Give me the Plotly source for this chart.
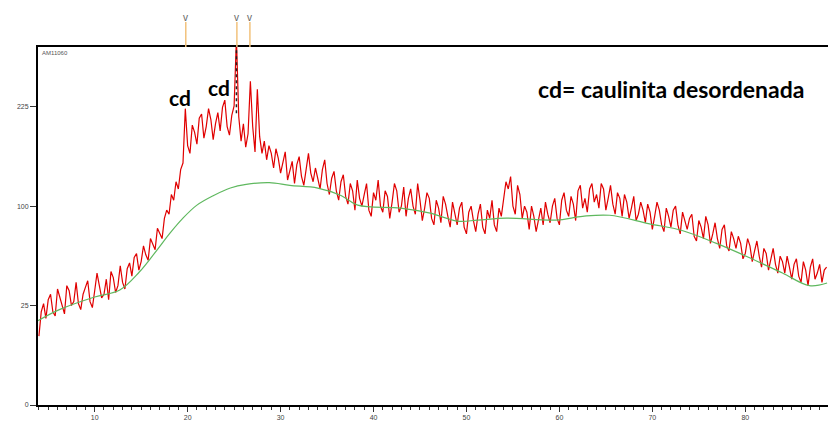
import numpy as np
import plotly.graph_objects as go

# 2-theta sampling grid (degrees) and measured counts
theta_start = 4.0
theta_step = 0.25
counts = [
    12, 22, 26, 19, 28, 31, 22, 20, 34, 29, 24, 21, 36, 33, 25, 27, 38, 26, 23, 31,
    35, 39, 27, 24, 33, 44, 36, 29, 31, 40, 28, 45, 41, 32, 36, 49, 38, 34, 47, 51,
    42, 55, 58, 46, 52, 64, 57, 53, 70, 66, 61, 79, 74, 70, 88, 96, 92, 112, 106, 126,
    118, 140, 148, 222, 170, 160, 198, 188, 172, 208, 214, 180, 196, 222, 206, 178, 200, 216, 190, 224,
    235, 196, 184, 212, 226, 340, 210, 176, 200, 168, 186, 265, 196, 162, 252, 182, 160, 176, 152, 170,
    160, 142, 166, 154, 136, 150, 162, 128, 140, 150, 124, 146, 156, 132, 122, 144, 160, 136, 126, 142,
    130, 118, 140, 152, 124, 112, 130, 138, 116, 106, 126, 134, 110, 102, 124, 116, 96, 128, 108, 100,
    112, 124, 96, 90, 114, 106, 128, 100, 94, 116, 110, 88, 104, 124, 116, 94, 100, 120, 90, 108,
    118, 100, 92, 124, 106, 86, 98, 114, 108, 88, 82, 106, 98, 84, 110, 102, 90, 80, 104, 94,
    82, 98, 104, 80, 74, 94, 100, 86, 76, 92, 102, 80, 74, 96, 88, 106, 82, 76, 98, 90,
    110, 126, 118, 132, 100, 92, 122, 112, 88, 100, 94, 78, 100, 90, 76, 86, 98, 82, 104, 92,
    84, 100, 108, 88, 82, 106, 114, 96, 90, 110, 102, 86, 116, 122, 98, 108, 94, 118, 124, 104,
    112, 98, 124, 118, 96, 108, 122, 102, 92, 114, 108, 90, 112, 104, 88, 98, 110, 86, 92, 104,
    96, 84, 102, 94, 78, 90, 104, 96, 82, 76, 98, 90, 80, 96, 100, 82, 74, 94, 86, 78,
    88, 92, 72, 68, 86, 80, 70, 90, 82, 66, 74, 84, 70, 62, 78, 82, 64, 60, 76, 70,
    62, 72, 66, 54, 58, 70, 64, 52, 60, 68, 56, 48, 62, 58, 46, 54, 62, 50, 44, 56,
    52, 44, 56, 48, 40, 50, 54, 42, 38, 52, 46, 36, 48, 54, 40, 44, 50, 38, 46, 48,
]

# Background (green) curve
bg_theta = [3.9, 6.2, 10.0, 12.7, 14.8, 16.7, 18.1, 19.5, 21.0, 22.8, 24.6, 26.3, 28.8,
            31.0, 34.0, 36.5, 38.3, 42.9, 46.1, 49.0, 51.2, 54.3, 59.6, 62.5, 65.4, 69.7,
            73.2, 76.9, 80.4, 84.0, 86.9, 88.8]
bg_counts = [18, 23, 29.5, 33.4, 44.7, 60.7, 74.7, 88.3, 101, 111, 119, 123, 125,
             122, 119, 111, 101, 98, 93, 85.5, 86.4, 88.3, 86.4, 90, 91, 83,
             77, 66, 55, 44, 36, 37.6]

# Reference phase marker positions (2-theta)
marker_theta = [19.8, 25.3, 26.7]
spike_theta = 25.25
spike_base = 215

# Square-root intensity axis ticks
y_ticks = [0, 25, 100, 225]
x_ticks = [10, 20, 30, 40, 50, 60, 70, 80]

sample_label = "AM11060"

theta = theta_start + theta_step * np.arange(len(counts))

fig = go.Figure()
fig.add_trace(go.Scatter(
    x=theta, y=np.sqrt(counts), mode="lines",
    line=dict(color="#e00000", width=1.2), showlegend=False))
fig.add_trace(go.Scatter(
    x=bg_theta, y=np.sqrt(bg_counts), mode="lines", line_shape="spline",
    line=dict(color="#5fb85f", width=1.2), showlegend=False))

# dark marks along the clipped main spike
fig.add_shape(type="line", xref="x", yref="y", x0=spike_theta, x1=spike_theta,
              y0=np.sqrt(spike_base), y1=18, line=dict(color="#222222", width=1.5, dash="dot"))

for t in marker_theta:
    fig.add_shape(type="line", xref="x", yref="paper", x0=t, x1=t, y0=1.0, y1=1.07,
                  line=dict(color="#f2c27c", width=1.5))
    fig.add_annotation(x=t, y=1.062, xref="x", yref="paper", text="v", showarrow=False,
                       xanchor="center", yanchor="bottom",
                       font=dict(size=10, color="#666666", family="Liberation Sans"))

fig.add_annotation(x=0.003, y=0.998, xref="paper", yref="paper", text=sample_label,
                   showarrow=False, xanchor="left", yanchor="top",
                   font=dict(size=6, color="#555555", family="Liberation Sans"))

label_font = dict(size=21, color="black", family="Lato")
fig.add_annotation(x=(180 - 38) / 790, y=(405 - 97) / 358, xref="paper", yref="paper",
                   text="<b>cd</b>", showarrow=False, font=label_font,
                   xanchor="center", yanchor="middle")
fig.add_annotation(x=(219 - 38) / 790, y=(405 - 87) / 358, xref="paper", yref="paper",
                   text="<b>cd</b>", showarrow=False, font=label_font,
                   xanchor="center", yanchor="middle")
fig.add_annotation(x=(671 - 38) / 790, y=(405 - 89) / 358, xref="paper", yref="paper",
                   text="<b>cd= caulinita desordenada</b>", showarrow=False,
                   xanchor="center", yanchor="middle",
                   font=dict(size=23, color="black", family="Lato"))

fig.update_xaxes(range=[3.9, 88.9], tickvals=x_ticks, ticks="outside", ticklen=5,
                 tickcolor="#333333", showline=True, linecolor="black", linewidth=2,
                 mirror=True, showgrid=False, zeroline=False,
                 tickfont=dict(size=7, color="#444444", family="Liberation Sans"),
                 minor=dict(dtick=1, ticks="outside", ticklen=3, tickcolor="#333333"))
fig.update_yaxes(range=[0, 18], tickvals=[np.sqrt(v) for v in y_ticks],
                 ticktext=[str(v) for v in y_ticks], ticks="outside", ticklen=6,
                 tickcolor="#333333", showline=True, linecolor="black", linewidth=2,
                 mirror=False, showgrid=False, zeroline=False,
                 tickfont=dict(size=7, color="#444444", family="Liberation Sans"))

fig.update_layout(width=828, height=423, margin=dict(l=38, r=0, t=47, b=18),
                  paper_bgcolor="white", plot_bgcolor="white")
fig.write_html("out.html")
